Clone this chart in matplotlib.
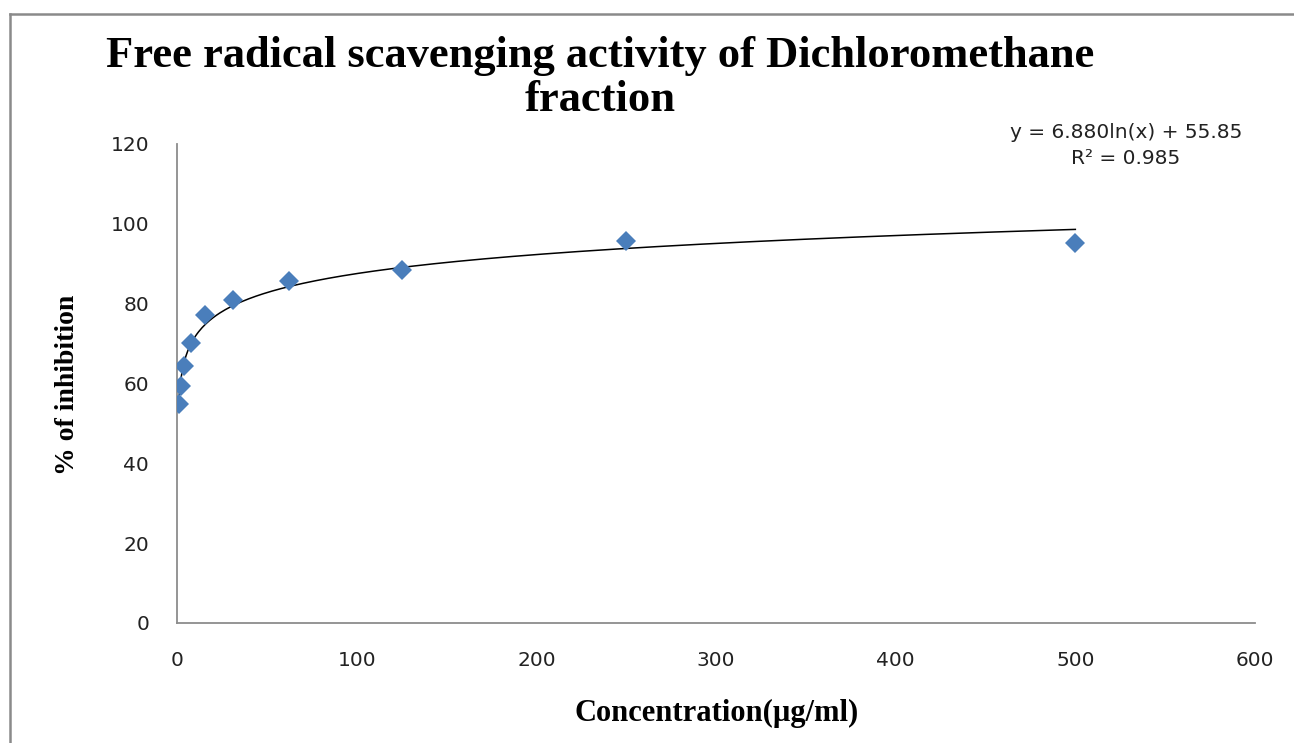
import numpy as np
import matplotlib
matplotlib.use("Agg")
import matplotlib.pyplot as plt
from matplotlib.lines import Line2D

# data
concentration = [1, 2, 4, 8, 15.6, 31.25, 62.5, 125, 250, 500]
inhibition = [54.8, 59.3, 64.3, 70.2, 77.2, 80.9, 85.6, 88.4, 95.6, 95.2]

# logarithmic trendline as printed on the chart
slope = 6.880
intercept = 55.85
r_squared = 0.985

title = "Free radical scavenging activity of Dichloromethane\nfraction"
x_label = "Concentration(\u00b5g/ml)"
y_label = "% of inhibition"
x_ticks = [0, 100, 200, 300, 400, 500, 600]
y_ticks = [0, 20, 40, 60, 80, 100, 120]

serif = ["Liberation Serif", "DejaVu Serif"]
axis_grey = "#8c8c8c"

fig = plt.figure(figsize=(12.94, 7.43), dpi=100)
ax = fig.add_axes([177 / 1294, 1 - 623 / 743, (1255 - 177) / 1294, (623 - 144) / 743])

# scatter points
ax.plot(concentration, inhibition, linestyle="none", marker="D",
        markersize=10.5, color="#4a7ebb", markeredgewidth=0, zorder=3)

# trendline
xs = np.linspace(min(concentration), max(concentration), 500)
ax.plot(xs, slope * np.log(xs) + intercept, color="black", linewidth=1.1, zorder=2)

ax.set_xlim(0, 600)
ax.set_ylim(0, 120)
ax.set_xticks(x_ticks)
ax.set_yticks(y_ticks)
ax.tick_params(length=0, labelsize=14.5, labelcolor="#222222")
ax.tick_params(axis="x", pad=20)
ax.tick_params(axis="y", pad=20)
for side in ["top", "right"]:
    ax.spines[side].set_visible(False)
for side in ["left", "bottom"]:
    ax.spines[side].set_color(axis_grey)
    ax.spines[side].set_linewidth(1.3)

# titles and labels
fig.text(600 / 1294, 1 - 78 / 743, title, ha="center", va="center",
         fontsize=32, fontweight="bold", family=serif, linespacing=1.1)
fig.text(717 / 1294, 1 - 713 / 743, x_label, ha="center", va="center",
         fontsize=22, fontweight="bold", family=serif)
fig.text(68 / 1294, 1 - 385 / 743, y_label, ha="center", va="center",
         rotation=90, fontsize=20, fontweight="bold", family=serif)

# trendline equation
fig.text(1126 / 1294, 1 - 133 / 743, "y = %.3fln(x) + %.2f" % (slope, intercept),
         ha="center", va="center", fontsize=14.5, color="#222222")
fig.text(1126 / 1294, 1 - 158 / 743, "R\u00b2 = %.3f" % r_squared,
         ha="center", va="center", fontsize=14.5, color="#222222")

# chart area border (top and left edges visible)
fig.add_artist(Line2D([10 / 1294, 1], [1 - 14 / 743, 1 - 14 / 743],
                      color="#8a8a8a", linewidth=1.8, transform=fig.transFigure))
fig.add_artist(Line2D([10 / 1294, 10 / 1294], [0, 1 - 14 / 743],
                      color="#8a8a8a", linewidth=1.8, transform=fig.transFigure))

fig.savefig("out.png", dpi=100)
